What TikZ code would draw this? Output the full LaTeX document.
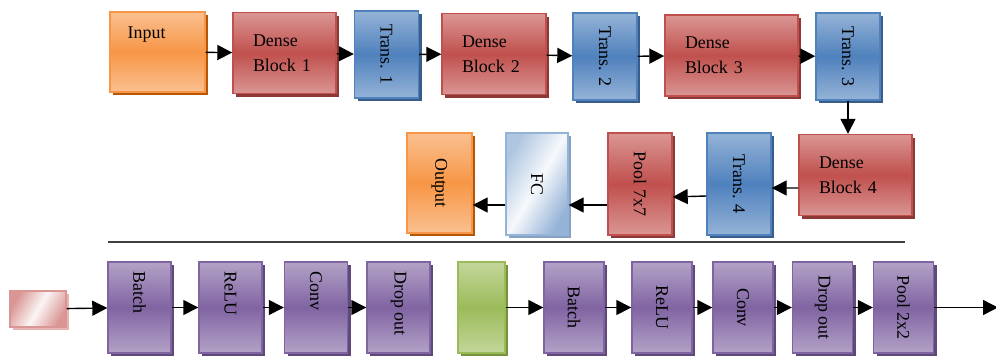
\documentclass[tikz,border=0pt]{standalone}
\usepackage{fontspec}
\setmainfont{Liberation Serif}
\usepackage{graphicx}
\usetikzlibrary{arrows.meta,shadows}

\definecolor{redmid}{HTML}{C0504D}
\definecolor{redlt}{HTML}{DA9694}
\definecolor{redsh}{HTML}{8C3836}
\definecolor{bluemid}{HTML}{4F81BD}
\definecolor{bluelt}{HTML}{95B3D7}
\definecolor{bluesh}{HTML}{385D8A}
\definecolor{purmid}{HTML}{8064A2}
\definecolor{purlt}{HTML}{B3A2C7}
\definecolor{pursh}{HTML}{5F497A}
\definecolor{ormid}{HTML}{F79646}
\definecolor{orlt}{HTML}{FAC090}
\definecolor{orsh}{HTML}{B65708}
\definecolor{grmid}{HTML}{9BBB59}
\definecolor{grlt}{HTML}{C3D69B}
\definecolor{grsh}{HTML}{76923C}

\begin{document}
\begin{tikzpicture}[font=\fontsize{10.2}{14.2}\selectfont,
  >={Triangle[length=0.3cm,width=0.3cm]},
  box/.style args={#1/#2/#3}{draw=#1, line width=0.8pt,
    top color=#2, bottom color=#2, middle color=#1,
    drop shadow={shadow xshift=0.06cm,shadow yshift=-0.06cm,fill=#3,opacity=1},
    inner sep=0pt},
  dense/.style={box=redmid/redlt/redsh, align=left, text width=#1,
    inner xsep=0.4cm, minimum height=1.62cm},
  trans/.style={box=bluemid/bluelt/bluesh, minimum width=1.28cm, minimum height=#1},
  trans/.default=1.74cm,
  layer/.style={box=purmid/purlt/pursh, minimum width=#1, minimum height=1.82cm},
  layer/.default=1.26cm,
  toptxt/.style={rotate=-90, anchor=west, inner sep=0pt}]
\useasboundingbox (0,0) rectangle (19.92,7.12);

% first row
\node[box=ormid/orlt/orsh, minimum width=1.90cm, minimum height=1.60cm] (inp) at (3.15,6.08) {};
\node[anchor=north west, inner sep=0pt] (inptxt) at ([xshift=0.36cm,yshift=-0.30cm]inp.north west) {Input};
\node[dense=1.26cm] (db1) at (5.69,6.06) {Dense\\Block 1};
\node[trans] (tr1) at (7.73,6.03) {\rotatebox{-90}{Trans. 1}};
\node[dense=1.28cm] (db2) at (9.88,6.04) {Dense\\Block 2};
\node[trans] (tr2) at (12.10,5.99) {\rotatebox{-90}{Trans. 2}};
\node[dense=1.86cm] (db3) at (14.63,6.01) {Dense\\Block 3};
\node[trans] (tr3) at (16.96,5.99) {\rotatebox{-90}{Trans. 3}};

\draw[->,thick] (inp) -- (db1);
\draw[->,thick] (db1) -- (tr1);
\draw[->,thick] (tr1) -- (db2);
\draw[->,thick] (db2) -- (tr2);
\draw[->,thick] (tr2) -- (db3);
\draw[->,thick] (db3) -- (tr3);

% second row
\node[dense=1.46cm] (db4) at (17.11,3.62) {Dense\\Block 4};
\node[trans=2.04cm] (tr4) at (14.78,3.44) {\rotatebox{-90}{Trans. 4}};
\node[box=redmid/redlt/redsh, minimum width=1.28cm, minimum height=2.04cm] (pool7) at (12.80,3.44) {\rotatebox{-90}{Pool 7x7}};
\node[draw=bluelt, line width=0.8pt, inner sep=0pt, left color=bluelt!75, right color=bluelt,
  middle color=white!92!bluelt, shading angle=60,
  drop shadow={shadow xshift=0.06cm,shadow yshift=-0.06cm,fill=bluelt!90!black,opacity=1},
  minimum width=1.24cm, minimum height=2.04cm] (fc) at (10.74,3.44) {\rotatebox{-90}{FC}};
\node[box=ormid/orlt/orsh, minimum width=1.30cm, minimum height=2.00cm] (out) at (8.79,3.46) {\rotatebox{-90}{Output}};

\draw[->,thick] (tr3.south) -- (tr3.south |- db4.north);
\draw[->,thick] ([yshift=-0.26cm]db4.west) -- ([yshift=-0.08cm]tr4.east);
\draw[->,thick] ([yshift=-0.24cm]tr4.west) -- ([yshift=-0.26cm]pool7.east);
\draw[->,thick] ([yshift=-0.42cm]pool7.west) -- ([yshift=-0.42cm]fc.east);
\draw[->,thick] ([yshift=-0.42cm]fc.west) -- ([yshift=-0.44cm]out.east);

\draw[line width=1.2pt, black!75] (2.16,2.28) -- (18.10,2.28);

% third row
\node[draw=redlt, line width=0.8pt, inner sep=0pt, left color=redlt, right color=redlt,
  middle color=white!90!redlt, shading angle=60,
  drop shadow={shadow xshift=0.05cm,shadow yshift=-0.05cm,fill=redlt!70,opacity=1},
  minimum width=1.12cm, minimum height=0.72cm] (pin) at (0.76,0.94) {};
\node[layer] (b1) at (2.79,0.97) {};
\node[layer] (r1) at (4.61,0.97) {};
\node[layer] (c1) at (6.32,0.97) {};
\node[layer] (d1) at (7.97,0.97) {};
\node[toptxt] (b1t) at ([yshift=-0.2cm]b1.north) {Batch};
\node[toptxt] (r1t) at ([yshift=-0.2cm]r1.north) {ReLU};
\node[toptxt] (c1t) at ([yshift=-0.2cm]c1.north) {Conv};
\node[toptxt] (d1t) at ([yshift=-0.2cm]d1.north) {Drop out};
\node[box=grmid/grlt/grsh, minimum width=0.94cm, minimum height=1.82cm] (gr) at (9.63,0.97) {};
\node[layer=1.20cm] (b2) at (11.48,0.97) {\rotatebox{-90}{Batch}};
\node[layer=1.20cm] (r2) at (13.24,0.97) {\rotatebox{-90}{ReLU}};
\node[layer=1.20cm] (c2) at (14.86,0.97) {\rotatebox{-90}{Conv}};
\node[layer=1.20cm] (d2) at (16.45,0.97) {\rotatebox{-90}{Drop out}};
\node[layer=1.20cm] (p2) at (18.07,0.97) {\rotatebox{-90}{Pool 2x2}};
\coordinate (fin) at (19.96,0.97);

\draw[->,thick] (pin) -- (b1);
\draw[->,thick] (b1) -- (r1);
\draw[->,thick] (r1) -- (c1);
\draw[->,thick] (c1) -- (d1);
\draw[->,thick] (gr) -- (b2);
\draw[->,thick] (b2) -- (r2);
\draw[->,thick] (r2) -- (c2);
\draw[->,thick] (c2) -- (d2);
\draw[->,thick] (d2) -- (p2);
\draw[->,thick] (p2) -- (fin);

\end{tikzpicture}
\end{document}
